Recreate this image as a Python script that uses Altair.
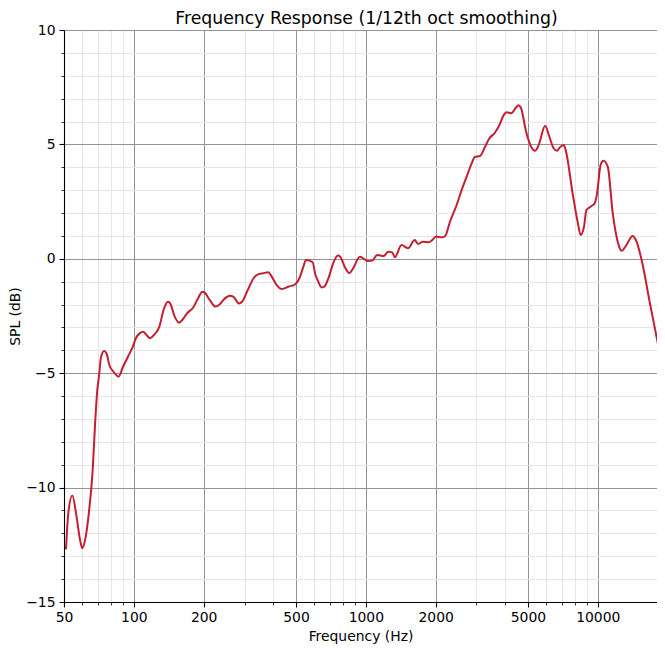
import altair as alt
import pandas as pd

# Frequency (Hz) and smoothed SPL (dB)
freq = [51, 52.2, 54.3, 56.6, 58.8, 60, 62, 64, 66.5, 68, 69.5, 70.8, 72.2, 74.5, 76.4,
        78.4, 81.7, 85.9, 89.8, 94.3, 98.9, 102.3, 106, 109.7, 113.4, 117.6, 122.1,
        128.8, 134.3, 140.3, 143.4, 150.1, 156.4, 162.9, 169.5, 180, 189, 197.3, 202,
        212.5, 225, 235, 246.8, 259, 269.2, 283.5, 292.8, 310, 328.3, 343, 361, 380,
        393, 413, 434, 464, 496, 513, 538, 552, 590, 604, 624, 645, 662, 694, 723, 759,
        778, 811, 850, 878, 943, 981, 1020, 1066, 1120, 1195, 1248, 1300, 1335, 1425,
        1520, 1625, 1680, 1765, 1860, 1915, 2010, 2123, 2200, 2306, 2464, 2588, 2721,
        2860, 2955, 3106, 3250, 3400, 3600, 3735, 3960, 4050, 4230, 4450, 4550, 4670,
        4910, 5160, 5370, 5560, 5930, 6150, 6450, 6670, 6850, 7130, 7270, 7810, 8210,
        8430, 8720, 8930, 9380, 9700, 9930, 10280, 10580, 11040, 11600, 12300, 12675,
        13280, 14120, 14600, 15450, 16785, 17930, 18530, 19290]
spl = [-12.7, -11.1, -10.35, -11.25, -12.35, -12.65, -12.15, -11.1, -9.2, -7.3, -5.8,
       -5.1, -4.3, -4.03, -4.16, -4.64, -4.93, -5.15, -4.72, -4.28, -3.85, -3.45, -3.26,
       -3.19, -3.33, -3.47, -3.33, -2.97, -2.24, -1.88, -1.95, -2.53, -2.79, -2.64,
       -2.38, -2.14, -1.73, -1.44, -1.48, -1.8, -2.09, -1.98, -1.73, -1.61, -1.66,
       -1.95, -1.88, -1.36, -0.85, -0.68, -0.63, -0.59, -0.78, -1.15, -1.32, -1.22,
       -1.11, -0.93, -0.35, -0.05, -0.15, -0.63, -1.0, -1.25, -1.22, -0.78, -0.2, 0.14,
       0.07, -0.35, -0.63, -0.45, 0.09, 0.0, -0.1, -0.08, 0.17, 0.12, 0.31, 0.28, 0.07,
       0.6, 0.46, 0.82, 0.65, 0.75, 0.72, 0.78, 0.97, 0.94, 1.0, 1.62, 2.35, 3.0, 3.59,
       4.17, 4.46, 4.49, 4.85, 5.25, 5.51, 5.77, 6.33, 6.4, 6.36, 6.62, 6.71, 6.58,
       5.55, 4.9, 4.72, 4.97, 5.82, 5.41, 4.83, 4.72, 4.86, 4.97, 4.75, 2.79, 1.55,
       1.04, 1.4, 2.13, 2.3, 2.43, 2.86, 4.1, 4.29, 4.03, 2.0, 0.6, 0.35, 0.6, 1.0,
       0.82, -0.05, -1.95, -3.42, -4.15, -5.0]

x_major = [50, 100, 200, 500, 1000, 2000, 5000, 10000]
x_minor = [60, 70, 80, 90, 300, 400, 600, 700, 800, 900,
           3000, 4000, 6000, 7000, 8000, 9000]
y_ticks = list(range(-15, 11))
x_domain = [50, 18000]
y_domain = [-15, 10]

df = pd.DataFrame({"freq": freq, "spl": spl})

FONT = "DejaVu Sans"
MAJOR_GRID = "#939393"
MINOR_GRID = "#e6e6e6"

x_test = "indexof([" + ",".join(str(v) for v in x_major) + "], datum.value) >= 0"
y_test = "datum.value % 5 == 0"

x_axis = alt.Axis(
    values=sorted(x_major + x_minor),
    labelExpr=f"({x_test}) ? format(datum.value, 'd') : ''",
    title="Frequency (Hz)",
    grid=True,
    gridColor={"condition": {"test": x_test, "value": MAJOR_GRID}, "value": MINOR_GRID},
    gridWidth=1,
    tickSize={"condition": {"test": x_test, "value": 5}, "value": 3},
    tickWidth={"condition": {"test": x_test, "value": 1.1}, "value": 0.8},
    labelOverlap=False,
    labelFlush=False,
    labelPadding=3,
    titlePadding=6,
)
y_axis = alt.Axis(
    values=y_ticks,
    labelExpr=f"({y_test}) ? datum.label : ''",
    format="d",
    title="SPL (dB)",
    grid=True,
    gridColor={"condition": {"test": y_test, "value": MAJOR_GRID}, "value": MINOR_GRID},
    gridWidth=1,
    tickSize={"condition": {"test": y_test, "value": 5}, "value": 3},
    tickWidth={"condition": {"test": y_test, "value": 1.1}, "value": 0.8},
    labelOverlap=False,
    labelFlush=False,
    labelPadding=4,
    titlePadding=3,
)

chart = (
    alt.Chart(df)
    .mark_line(color="#c41e30", strokeWidth=2, interpolate="monotone", clip=True)
    .encode(
        x=alt.X("freq:Q", scale=alt.Scale(type="log", domain=x_domain, nice=False), axis=x_axis),
        y=alt.Y("spl:Q", scale=alt.Scale(domain=y_domain, nice=False, zero=False), axis=y_axis),
    )
    .properties(
        width=593,
        height=572,
        title=alt.TitleParams(
            "Frequency Response (1/12th oct smoothing)",
            font=FONT, fontSize=17.3, fontWeight="normal", color="black",
            anchor="middle", frame="group", offset=7, dy=11, dx=6,
        ),
        autosize=alt.AutoSizeParams(type="none"),
        padding={"left": 56, "top": 22, "right": 0, "bottom": 46},
    )
    .configure_view(stroke=None)
    .configure_axis(
        labelFont=FONT, labelFontSize=13.9, labelColor="black",
        titleFont=FONT, titleFontSize=13.9, titleFontWeight="normal", titleColor="black",
        domainColor="black", domainWidth=1.1, tickColor="black",
    )
)

chart.save("out.html", embed_options={"renderer": "svg", "actions": False})
